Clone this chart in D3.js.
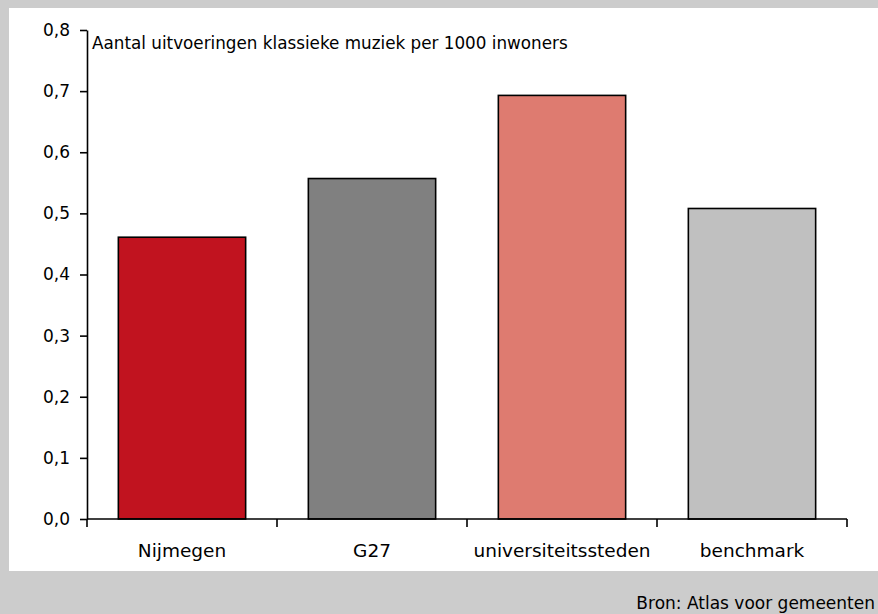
<!DOCTYPE html>
<html>
<head>
<meta charset="utf-8">
<script src="https://cdn.jsdelivr.net/npm/d3@7"></script>
<style>
  body { margin: 0; background: #cccccc; }
  text { font-family: "DejaVu Sans", sans-serif; fill: #000; }
</style>
</head>
<body>
<div id="chart"></div>
<script>
// data
var categories = ["Nijmegen", "G27", "universiteitssteden", "benchmark"];
var values = [0.461, 0.557, 0.693, 0.508];
var barColors = ["#c1131f", "#808080", "#de7b70", "#c0c0c0"];
var yTicks = [0, 0.1, 0.2, 0.3, 0.4, 0.5, 0.6, 0.7, 0.8];
var title = "Aantal uitvoeringen klassieke muziek per 1000 inwoners";
var source = "Bron: Atlas voor gemeenten";

var svgWidth = 878;
var svgHeight = 614;

var margin = { top: 30, right: 31, bottom: 95, left: 87 };
var chartWidth = svgWidth - margin.left - margin.right;
var chartHeight = svgHeight - margin.top - margin.bottom;

var svg = d3.select("#chart")
  .append("svg")
  .attr("width", svgWidth)
  .attr("height", svgHeight);

// grey frame, white panel
svg.append("rect")
  .attr("width", svgWidth).attr("height", svgHeight)
  .attr("fill", "#cccccc");
svg.append("rect")
  .attr("x", 9).attr("y", 8)
  .attr("width", svgWidth - 9).attr("height", 563)
  .attr("fill", "#ffffff");

var chartGroup = svg.append("g")
  .attr("transform", `translate(${margin.left}, ${margin.top})`);

var nl = d3.formatLocale({ decimal: ",", thousands: ".", grouping: [3], currency: ["€", ""] });

var xScale = d3.scaleBand()
  .domain(categories)
  .range([0, chartWidth])
  .paddingInner(0.33)
  .paddingOuter(0.165);

var yScale = d3.scaleLinear()
  .domain([0, 0.8])
  .range([chartHeight, 0]);

// bars
chartGroup.selectAll("rect.bar")
  .data(values)
  .enter()
  .append("rect")
  .attr("class", "bar")
  .attr("x", (d, i) => xScale(categories[i]))
  .attr("y", d => yScale(d))
  .attr("width", xScale.bandwidth())
  .attr("height", d => chartHeight - yScale(d))
  .attr("fill", (d, i) => barColors[i])
  .attr("stroke", "#000")
  .attr("stroke-width", 1.6);

// y axis
var leftAxis = d3.axisLeft(yScale)
  .tickValues(yTicks)
  .tickFormat(nl.format(".1f"))
  .tickSize(7)
  .tickSizeOuter(0)
  .tickPadding(10);

var yAxisG = chartGroup.append("g")
  .call(leftAxis);
yAxisG.selectAll("text")
  .attr("font-size", 17)
  .attr("font-family", "DejaVu Sans, sans-serif");
yAxisG.selectAll("line, path").attr("stroke", "#000").attr("stroke-width", 1.6);

// x axis: line with ticks at category boundaries
var gap = xScale.step() - xScale.bandwidth();
var bounds = categories.map(c => xScale(c) - gap / 2);
bounds.push(chartWidth);

var xAxisG = chartGroup.append("g")
  .attr("transform", `translate(0, ${chartHeight})`);
xAxisG.append("line")
  .attr("x1", 0).attr("x2", chartWidth)
  .attr("stroke", "#000").attr("stroke-width", 1.6);
xAxisG.selectAll("line.tick")
  .data(bounds)
  .enter()
  .append("line")
  .attr("class", "tick")
  .attr("x1", d => d).attr("x2", d => d)
  .attr("y1", 0).attr("y2", 8)
  .attr("stroke", "#000").attr("stroke-width", 1.6);
xAxisG.selectAll("text")
  .data(categories)
  .enter()
  .append("text")
  .attr("x", d => xScale(d) + xScale.bandwidth() / 2)
  .attr("y", 38)
  .attr("text-anchor", "middle")
  .attr("font-size", 18.5)
  .text(d => d);

// title inside the plot
chartGroup.append("text")
  .attr("x", 5)
  .attr("y", 19)
  .attr("font-size", 16.8)
  .text(title);

// source line in the grey footer
svg.append("text")
  .attr("x", 875)
  .attr("y", 609)
  .attr("text-anchor", "end")
  .attr("font-size", 17)
  .text(source);
</script>
</body>
</html>
